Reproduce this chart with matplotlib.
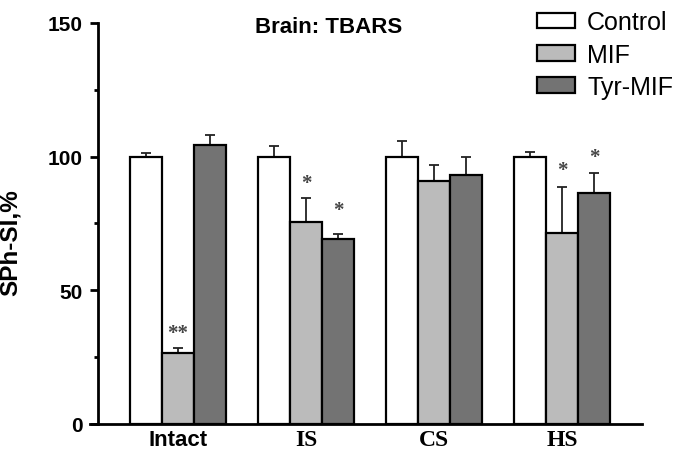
import numpy as np
import matplotlib.pyplot as plt
from matplotlib.ticker import MultipleLocator

# datos
grupos = ['Intact', 'IS', 'CS', 'HS']
series = ['Control', 'MIF', 'Tyr-MIF']
control = [100, 100, 100, 100]
mif = [26.5, 75.5, 91, 71.5]
tyr_mif = [104.5, 69, 93, 86.5]
err_control = [1.5, 4, 5.7, 1.6]
err_mif = [1.8, 9, 5.7, 17]
err_tyr = [3.5, 2, 7, 7.5]
# asteriscos: (grupo, serie, texto, altura)
marcas = [(0, 1, '**', 34), (1, 1, '*', 90), (1, 2, '*', 80),
          (3, 1, '*', 95), (3, 2, '*', 100)]

colores = ['white', '#bbbbbb', '#737373']
valores = [control, mif, tyr_mif]
errores = [err_control, err_mif, err_tyr]

fig = plt.figure(figsize=(6.76, 4.52), dpi=100)
ax = fig.add_axes([0.145, 0.06, 0.805, 0.887])

x = np.arange(len(grupos))
w = 0.25
for i in range(3):
    ax.bar(x + (i - 1) * w, valores[i], w, color=colores[i], edgecolor='black',
           linewidth=1.6, label=series[i], zorder=2)
    ax.errorbar(x + (i - 1) * w, valores[i], yerr=[np.zeros(4), errores[i]],
                fmt='none', ecolor='#222222', elinewidth=1.3, capsize=3.5,
                capthick=1.3, zorder=1)

for g, s, t, h in marcas:
    ax.text(x[g] + (s - 1) * w, h, t, ha='center', va='center', fontsize=15,
            fontweight='bold', color='#444444', family='Liberation Serif')

ax.set_xlim(-0.625, 3.625)
ax.set_ylim(0, 150)
ax.yaxis.set_major_locator(MultipleLocator(50))
ax.yaxis.set_minor_locator(MultipleLocator(25))
ax.spines['top'].set_visible(False)
ax.spines['right'].set_visible(False)
ax.spines['left'].set_linewidth(2)
ax.spines['bottom'].set_linewidth(2)
ax.spines['bottom'].set_bounds(-0.69, 3.625)
ax.tick_params(axis='y', which='major', length=6, width=2, labelsize=15, pad=5)
ax.tick_params(axis='y', which='minor', length=3, width=2)
for lab in ax.get_yticklabels():
    lab.set_fontweight('bold')
    lab.set_family('Liberation Sans')

ax.set_xticks(x)
ax.set_xticklabels(grupos)
ax.tick_params(axis='x', length=0, pad=4)
for i, lab in enumerate(ax.get_xticklabels()):
    lab.set_fontweight('bold')
    lab.set_fontsize(16 if i == 0 else 17)
    lab.set_family('Liberation Sans' if i == 0 else 'Liberation Serif')

ax.set_ylabel('SPh-SI,%', fontsize=17.5, fontweight='bold',
              family='Liberation Sans')
ax.yaxis.set_label_coords(-0.14, 0.454)
ax.text(0.423, 0.99, 'Brain: TBARS', transform=ax.transAxes, ha='center',
        va='center', fontsize=16, fontweight='bold', family='Liberation Sans')

leg = ax.legend(loc='upper left', bbox_to_anchor=(537 / 676, 0.975),
                bbox_transform=fig.transFigure, frameon=False, borderpad=0,
                borderaxespad=0,
                prop={'family': 'Liberation Sans', 'size': 18},
                handlelength=1.5, handleheight=0.6, handletextpad=0.5,
                labelspacing=0.33)

plt.savefig('out.png', dpi=100)
